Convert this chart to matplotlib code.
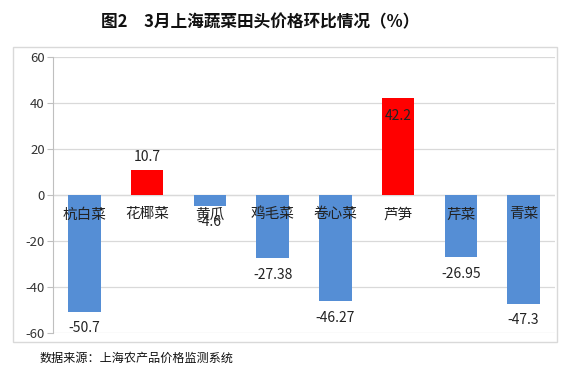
import matplotlib
matplotlib.use("Agg")
import matplotlib.pyplot as plt
from matplotlib.patches import Rectangle

plt.rcParams['font.family'] = ['Noto Sans CJK SC', 'DejaVu Sans']

categories = ['杭白菜', '花椰菜', '黄瓜', '鸡毛菜', '卷心菜', '芦笋', '芹菜', '青菜']
values = [-50.7, 10.7, -4.6, -27.38, -46.27, 42.2, -26.95, -47.3]
value_labels = ['-50.7', '10.7', '-4.6', '-27.38', '-46.27', '42.2', '-26.95', '-47.3']
yticks = [-60, -40, -20, 0, 20, 40, 60]

fig = plt.figure(figsize=(5.72, 3.71), dpi=100)
ax = fig.add_axes([53/572, 1-333/371, 502/572, 276/371])

colors = ['#FF0000' if v > 0 else '#558ED5' for v in values]
x = list(range(len(categories)))
ax.bar(x, values, width=0.52, color=colors, zorder=3)

ax.set_xlim(-0.5, len(categories) - 0.5)
ax.set_ylim(-60, 60)
ax.set_yticks(yticks)
ax.set_yticklabels([str(t) for t in yticks], fontsize=9.5, color='#333333')
ax.set_xticks([])
ax.grid(axis='y', color='#d9d9d9', linewidth=0.9, zorder=0)
ax.axhline(0, color='#d9d9d9', linewidth=0.9, zorder=1)
for s in ['top', 'right', 'bottom']:
    ax.spines[s].set_visible(False)
ax.spines['left'].set_color('#bfbfbf')
ax.tick_params(axis='y', length=4, color='#bfbfbf', pad=2)

for i, (cat, v, lab) in enumerate(zip(categories, values, value_labels)):
    ax.annotate(cat, (i, 0), xytext=(0, -14), textcoords='offset points',
                ha='center', va='center', fontsize=10.5, color='#222222', zorder=5)
    if v > 30:
        off = -13
    elif v > 0:
        off = 10
    else:
        off = -12
    ax.annotate(lab, (i, v), xytext=(0, off), textcoords='offset points',
                ha='center', va='center', fontsize=10, color='#222222', zorder=5)

fig.patches.append(Rectangle((13/572, 1-342/371), 544/572, 295/371,
                             transform=fig.transFigure, fill=False,
                             edgecolor='#d9d9d9', linewidth=1))

fig.text(260/572, 1-22/371, '图2　3月上海蔬菜田头价格环比情况（%）', ha='center', va='center',
         fontsize=12, fontweight='bold', color='#111111')
fig.text(40/572, 1-358/371, '数据来源：上海农产品价格监测系统', ha='left', va='center',
         fontsize=8.7, color='#111111')

fig.savefig('out.png', dpi=100)
